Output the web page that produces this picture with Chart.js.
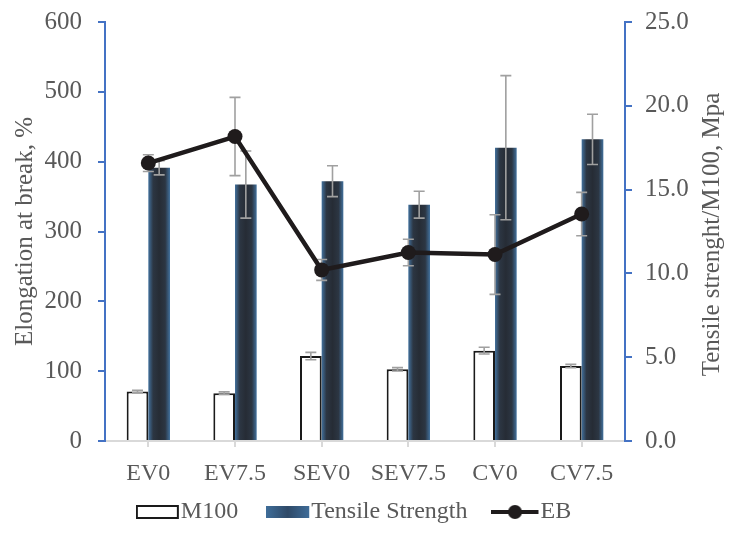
<!DOCTYPE html>
<html>
<head>
<meta charset="utf-8">
<script src="https://cdn.jsdelivr.net/npm/chart.js@4"></script>
<style>
  html, body { margin: 0; padding: 0; background: #fff; }
  #wrap { width: 730px; height: 537px; }
</style>
</head>
<body>
<div id="wrap"><canvas id="chart" width="730" height="537"></canvas></div>
<script>
// данные
const categories = ["EV0", "EV7.5", "SEV0", "SEV7.5", "CV0", "CV7.5"];
const m100 = [2.95, 2.85, 5.07, 4.28, 5.39, 4.47];
const m100Err = [0.08, 0.08, 0.22, 0.1, 0.2, 0.1];
const tensile = [16.3, 15.3, 15.5, 14.1, 17.5, 18.0];
const tensileErr = [0.42, 2.0, 0.92, 0.8, 4.3, 1.5];
const eb = [398, 436, 245, 270, 267, 325];
const ebErr = [12, 56, 15, 19, 57, 31];
const rightTitle = "Tensile strenght/M100, Mpa";

const FONT = "'Liberation Serif', 'Times New Roman', serif";
const TEXT = "#595959";
const AXIS_BLUE = "#4472c4";

// градиент для столбцов Tensile Strength
const tensileFill = (c) => {
  const chart = c.chart;
  const x = chart.scales.x;
  if (!chart.chartArea || !x || c.dataIndex == null) return "#2b333e";
  const cx = x.getPixelForValue(c.dataIndex);
  const w = (x.width / categories.length) * 0.25;
  const g = chart.ctx.createLinearGradient(cx, 0, cx + w, 0);
  g.addColorStop(0, "#42719d");
  g.addColorStop(0.22, "#2c3643");
  g.addColorStop(0.5, "#262c35");
  g.addColorStop(0.78, "#2c3643");
  g.addColorStop(1, "#42719d");
  return g;
};

// картинки для легенды
const legendImage = (w, draw) => {
  const cv = document.createElement("canvas");
  cv.width = w;
  cv.height = 16;
  draw(cv.getContext("2d"));
  return cv;
};
const imgM100 = legendImage(63, (g) => {
  g.fillStyle = "#fff";
  g.fillRect(1, 2, 41, 12);
  g.strokeStyle = "#1a1a1a";
  g.lineWidth = 2;
  g.strokeRect(1, 2, 41, 12);
});
const imgTensile = legendImage(63, (g) => {
  const gr = g.createLinearGradient(0, 0, 43, 0);
  gr.addColorStop(0, "#3f6d99");
  gr.addColorStop(0.5, "#2f4a68");
  gr.addColorStop(1, "#3f6d99");
  g.fillStyle = gr;
  g.fillRect(0, 2, 43, 12);
});
const imgEB = legendImage(71, (g) => {
  g.strokeStyle = "#1f1b1c";
  g.lineWidth = 4;
  g.beginPath();
  g.moveTo(0, 8);
  g.lineTo(47, 8);
  g.stroke();
  g.fillStyle = "#1f1b1c";
  g.beginPath();
  g.arc(23.5, 8, 7, 0, Math.PI * 2);
  g.fill();
});

// планки погрешностей
const drawErrors = (chart, index) => {
  const ds = chart.data.datasets[index];
  const meta = chart.getDatasetMeta(index);
  const scale = chart.scales[meta.yAxisID];
  const ctx = chart.ctx;
  ctx.save();
  ctx.strokeStyle = "#a0a0a0";
  ctx.lineWidth = 1.6;
  meta.data.forEach((el, i) => {
    const v = ds.data[i];
    const top = scale.getPixelForValue(v + ds.errors[i]);
    const bot = scale.getPixelForValue(v - ds.errors[i]);
    ctx.beginPath();
    ctx.moveTo(el.x, top);
    ctx.lineTo(el.x, bot);
    ctx.moveTo(el.x - 5.5, top);
    ctx.lineTo(el.x + 5.5, top);
    ctx.moveTo(el.x - 5.5, bot);
    ctx.lineTo(el.x + 5.5, bot);
    ctx.stroke();
  });
  ctx.restore();
};

const errorBars = {
  id: "errorBars",
  beforeDatasetDraw(chart, args) {
    if (args.index === 2) drawErrors(chart, 2);
  },
  afterDatasetDraw(chart, args) {
    if (args.index !== 2) drawErrors(chart, args.index);
  },
};

// подпись правой оси (снизу вверх)
const rightAxisTitle = {
  id: "rightAxisTitle",
  afterDraw(chart) {
    const s = chart.scales.y1;
    const ctx = chart.ctx;
    ctx.save();
    ctx.translate(s.right - 17, (s.top + s.bottom) / 2 + 3);
    ctx.rotate(-Math.PI / 2);
    ctx.font = "25px " + FONT;
    ctx.fillStyle = TEXT;
    ctx.textAlign = "center";
    ctx.textBaseline = "middle";
    ctx.fillText(rightTitle, 0, 0);
    ctx.restore();
  },
};

// подписи оси X заходят в область легенды — не обрезать их
const xLabelArea = {
  id: "xLabelArea",
  afterLayout(chart) {
    chart.scales.x.bottom = chart.height;
  },
};

const noLabelPadding = (s, w) => {
  s.width = w;
  s.paddingTop = 0;
  s.paddingBottom = 0;
};

new Chart(document.getElementById("chart").getContext("2d"), {
  type: "bar",
  data: {
    labels: categories,
    datasets: [
      {
        label: "M100",
        data: m100,
        errors: m100Err,
        yAxisID: "y1",
        backgroundColor: "#ffffff",
        borderColor: "#1a1a1a",
        borderWidth: 2,
        order: 1,
      },
      {
        label: "Tensile Strength",
        data: tensile,
        errors: tensileErr,
        yAxisID: "y1",
        backgroundColor: tensileFill,
        borderWidth: 0,
        order: 1,
      },
      {
        type: "line",
        label: "EB",
        data: eb,
        errors: ebErr,
        yAxisID: "y",
        borderColor: "#1f1b1c",
        backgroundColor: "#1f1b1c",
        borderWidth: 4.5,
        pointRadius: 7.5,
        pointBackgroundColor: "#1f1b1c",
        pointBorderWidth: 0,
        tension: 0,
        order: 0,
      },
    ],
  },
  options: {
    responsive: false,
    animation: false,
    categoryPercentage: 0.5,
    barPercentage: 1,
    layout: { padding: { left: 8, right: 1, top: 22, bottom: 3 } },
    plugins: {
      tooltip: { enabled: false },
      legend: {
        position: "bottom",
        labels: {
          usePointStyle: true,
          pointStyleWidth: 3,
          padding: 58,
          color: TEXT,
          font: { family: FONT, size: 24 },
          generateLabels: () => [
            { text: "M100", pointStyle: imgM100, fontColor: TEXT, lineWidth: 0, datasetIndex: 0 },
            { text: "Tensile Strength", pointStyle: imgTensile, fontColor: TEXT, lineWidth: 0, datasetIndex: 1 },
            { text: "EB", pointStyle: imgEB, fontColor: TEXT, lineWidth: 0, datasetIndex: 2 },
          ],
        },
      },
    },
    scales: {
      x: {
        offset: true,
        afterFit: (s) => { s.height = 1; },
        border: { color: "#d9d9d9", width: 2 },
        grid: {
          offset: false,
          drawOnChartArea: false,
          drawTicks: true,
          tickLength: 6,
          color: "#d9d9d9",
          lineWidth: 2,
        },
        ticks: { color: TEXT, font: { family: FONT, size: 24 }, padding: 12, maxRotation: 0, autoSkip: false },
      },
      y: {
        position: "left",
        min: 0,
        max: 600,
        afterFit: (s) => noLabelPadding(s, 97),
        border: { color: AXIS_BLUE, width: 2 },
        grid: { drawOnChartArea: false, tickLength: 7, color: AXIS_BLUE, lineWidth: 2 },
        ticks: { stepSize: 100, color: TEXT, font: { family: FONT, size: 25 }, padding: 16 },
        title: {
          display: true,
          text: "Elongation at break, %",
          color: TEXT,
          font: { family: FONT, size: 25 },
          padding: { top: 2, bottom: 2 },
        },
      },
      y1: {
        position: "right",
        min: 0,
        max: 25,
        afterFit: (s) => noLabelPadding(s, 104),
        border: { color: AXIS_BLUE, width: 2 },
        grid: { drawOnChartArea: false, tickLength: 7, color: AXIS_BLUE, lineWidth: 2 },
        ticks: {
          stepSize: 5,
          color: TEXT,
          font: { family: FONT, size: 25 },
          padding: 13,
          callback: (v) => Number(v).toFixed(1),
        },
      },
    },
  },
  plugins: [errorBars, rightAxisTitle, xLabelArea],
});
</script>
</body>
</html>
